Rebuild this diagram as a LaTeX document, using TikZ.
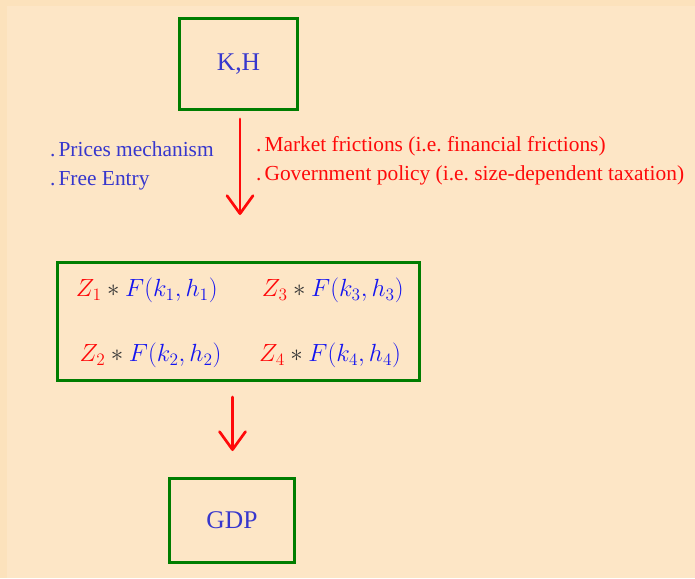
\RequirePackage{fix-cm}
\documentclass[tikz,border=0pt]{standalone}
\usepackage{fontspec}
\setmainfont{Liberation Serif}
\usepackage{graphicx}
\usetikzlibrary{arrows.meta}
\DeclareMathSizes{22}{22}{15.4}{11}
\definecolor{bgout}{RGB}{252,226,188}
\definecolor{bgin}{RGB}{253,230,198}
\definecolor{txtblue}{RGB}{55,55,205}
\definecolor{mblue}{RGB}{20,20,240}
\definecolor{boxgreen}{RGB}{0,125,0}
\definecolor{mred}{RGB}{255,10,10}
\frenchspacing
\begin{document}
\begin{tikzpicture}[x=1pt,y=-1pt,
  gbox/.style={draw=boxgreen,line width=3pt,minimum width=#1,inner sep=0pt},
  big/.style={font=\fontsize{25.5}{30}\selectfont,text=txtblue},
  lbl/.style={font=\fontsize{21.4}{25}\selectfont,inner sep=0pt,anchor=base west},
  fml/.style={font=\fontsize{22}{26}\selectfont,inner sep=0pt,anchor=base west},
  redarrow/.style={draw=mred,line width=2.7pt,line cap=round,-{Straight Barb[length=18pt,width=26pt,line cap=round,line join=round]}}]
\fill[bgout] (0,0) rectangle (695,578);
\fill[bgin] (7,6) rectangle (695,578);
\useasboundingbox (0,0) rectangle (695,578);
% boxes
\node[gbox=118.5pt,minimum height=90.7pt,big] (kh) at (238.5,63.7) {K,H};
\node[gbox=362pt,minimum height=118pt] (mid) at (238,321) {};
\node[gbox=125pt,minimum height=84pt,big] (gdp) at (232,520.3) {GDP};
% labels
\newcommand{\dt}{.\hspace{0.14em}}
\node[lbl,text=txtblue] (p1) at (50,156) {\dt Prices mechanism};
\node[lbl,text=txtblue] (p2) at (50,185) {\dt Free Entry};
\node[lbl,text=mred] (m1) at (256,151.5) {\dt Market frictions (i.e. financial frictions)};
\node[lbl,text=mred] (m2) at (256,180) {\dt Government policy (i.e. size-dependent taxation)};
% formulas
\newcommand{\zf}[1]{\scalebox{1.13}{$\color{mred}Z_{#1}\color{black!80}*\color{mblue}F(k_{#1},h_{#1})$}}
\node[fml] (f1) at (75.7,296.5) {\zf{1}};
\node[fml] (f2) at (79.5,361.5) {\zf{2}};
\node[fml] (f3) at (261.7,296.5) {\zf{3}};
\node[fml] (f4) at (259,361.5) {\zf{4}};
% arrows
\coordinate (a1s) at (240,119);
\coordinate (a1e) at (240,215);
\coordinate (a2s) at (232.5,397);
\coordinate (a2e) at (232.5,451);
\draw[redarrow] (a1s) -- (a1e);
\draw[redarrow] (a2s) -- (a2e);
\end{tikzpicture}
\end{document}
